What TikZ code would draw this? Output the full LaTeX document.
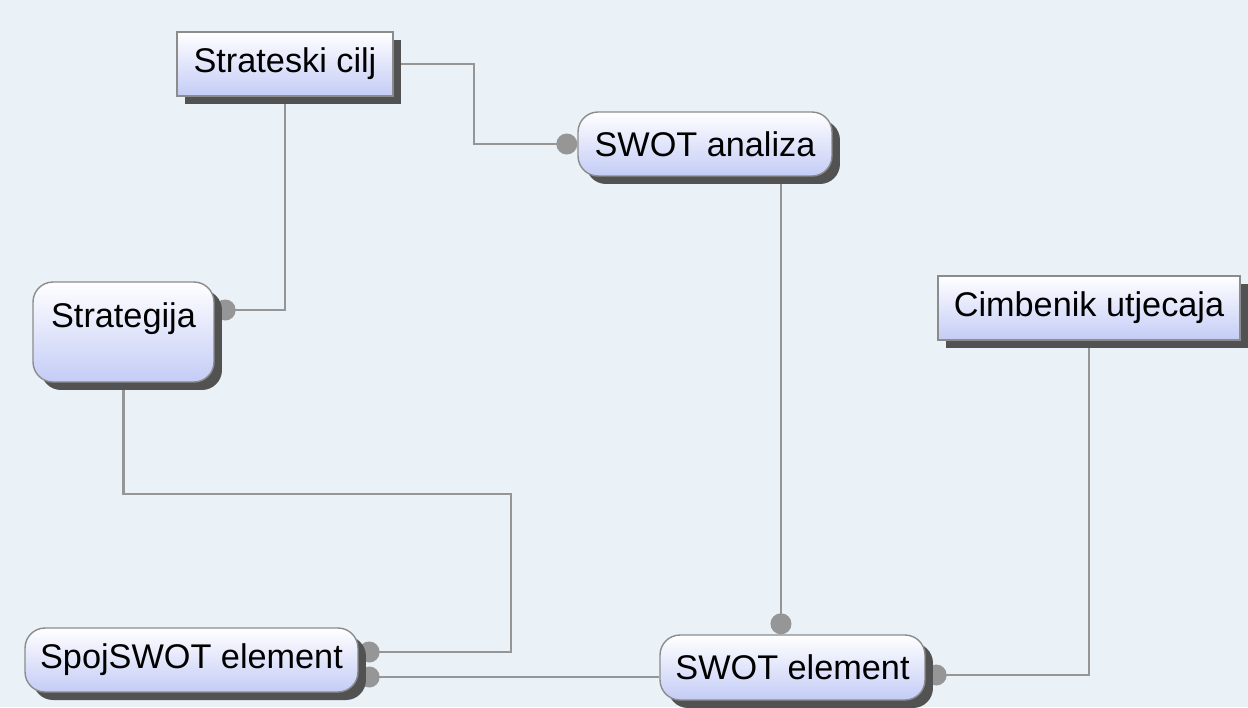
\documentclass[tikz,border=0pt]{standalone}
\usepackage{fontspec}
\setmainfont{Liberation Sans}
\usepackage{tikz}
\usetikzlibrary{shadows,arrows.meta,backgrounds}

\definecolor{hgrund}{RGB}{234,242,248}
\definecolor{kasten}{RGB}{196,204,246}
\definecolor{linie}{RGB}{150,150,150}
\definecolor{rand}{RGB}{140,140,140}

\begin{document}
\begin{tikzpicture}[x=0.02cm,y=-0.02cm,
		box/.style={draw=rand,line width=0.8pt,top color=white,bottom color=kasten,
			drop shadow={shadow xshift=0.16cm,shadow yshift=-0.16cm,fill=black!68,opacity=1},
			font=\fontsize{19.5}{23}\selectfont,inner sep=0pt},
		rbox/.style={box,rounded corners=0.4cm},
		conn/.style={linie,line width=1.2pt,-{Circle[length=0.42cm]}}]
				\useasboundingbox (0,0) rectangle (1248,707);
				\node[box,minimum width=4.32cm,minimum height=1.28cm] (cilj) at (285,64) {Strateski cilj};
				\node[rbox,minimum width=3.62cm,minimum height=2cm,text height=0.5cm,text depth=0.7cm] (strat) at (123.5,332) {Strategija};
				\node[rbox,minimum width=5.08cm,minimum height=1.28cm] (swot) at (705,144) {SWOT analiza};
				\node[box,minimum width=6.04cm,minimum height=1.28cm] (cim) at (1089,308) {Cimbenik utjecaja};
				\node[rbox,minimum width=6.66cm,minimum height=1.28cm] (spoj) at (191.5,660) {SpojSWOT element};
				\node[rbox,minimum width=5.3cm,minimum height=1.3cm] (el) at (792.5,667.5) {SWOT element};
				% Anschlusspunkte neben der Mitte
				\coordinate (stratE) at ([yshift=0.44cm]strat.east);
				\coordinate (sa) at ([xshift=1.52cm]swot.south);
				\coordinate (elE) at ([yshift=-0.15cm]el.east);
				\coordinate (elW) at ([yshift=-0.19cm]el.west);
				\coordinate (spojA) at ([yshift=0.16cm]spoj.east);
				% Verbindungen hinter den Kaesten
				\begin{scope}[on background layer]
					\fill[hgrund] (0,0) rectangle (1248,707);
					\draw[conn] (cilj.east) -- ++(80,0) |- (swot.west);
					\draw[conn] (cilj.south) |- (stratE);
					\draw[conn] (sa) -- (sa |- el.north);
					\draw[conn] (cim.south) |- (elE);
					\draw[conn] (strat.south) |- (511,494) |- (spojA);
					\draw[conn] (elW) -- (elW -| spoj.east);
				\end{scope}
			\end{tikzpicture}
\end{document}
